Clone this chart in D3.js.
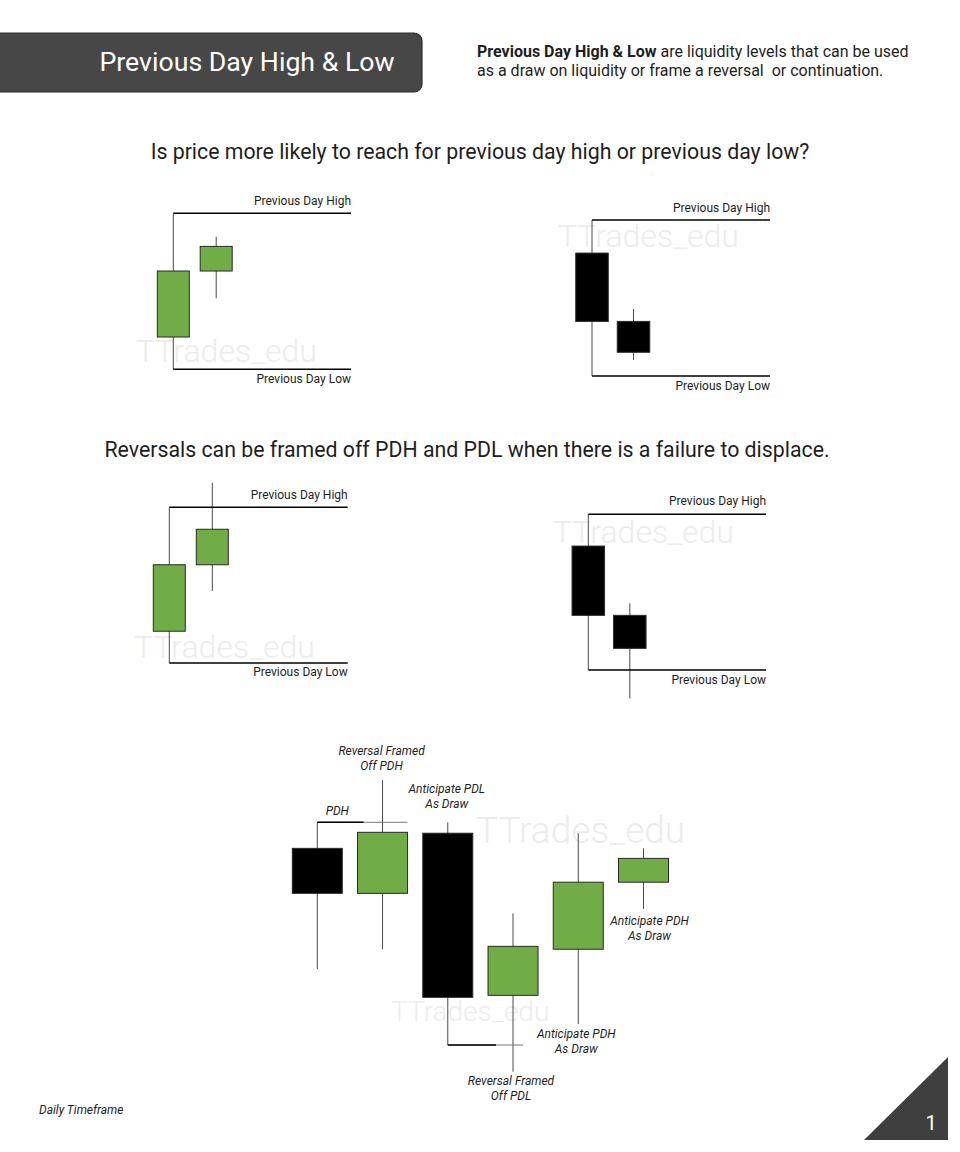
<!DOCTYPE html>
<html>
<head>
<meta charset="utf-8">
<script src="https://cdn.jsdelivr.net/npm/d3@7"></script>
<style>
  body { margin: 0; background: #fff; }
  svg { display: block; font-family: Roboto, "Noto Sans", sans-serif; }
</style>
</head>
<body>
<div id="page"></div>
<script>
// price values per diagram: previous day low = 0, previous day high = 100
const topLeftCandles = [
  {open: 20.7, high: 100, low: 0, close: 63},
  {open: 63, high: 85, low: 45.5, close: 78.8}
];
const topRightCandles = [
  {open: 78.8, high: 100, low: 0, close: 35},
  {open: 35, high: 43, low: 10.3, close: 15.2}
];
const midLeftCandles = [
  {open: 20.4, high: 100, low: 0, close: 63.1},
  {open: 63.1, high: 115.8, low: 46.2, close: 85.9}
];
const midRightCandles = [
  {open: 79.6, high: 100, low: 0, close: 35.1},
  {open: 35.1, high: 42.8, low: -18.2, close: 13.9}
];
const bottomCandles = [
  {open: 88.3, high: 100, low: 34.1, close: 68.1},
  {open: 68.1, high: 119, low: 43, close: 95.5},
  {open: 95.1, high: 100, low: 0, close: 21.4},
  {open: 22.3, high: 59.1, low: -12, close: 44.3},
  {open: 43, high: 95.1, low: 9.4, close: 73.1},
  {open: 73.1, high: 88.3, low: 61.1, close: 83.8}
];

const titleText = 'Previous Day High & Low';
const introBold = 'Previous Day High & Low';
const introLines = [' are liquidity levels that can be used', 'as a draw on liquidity or frame a reversal  or continuation.'];
const question1 = 'Is price more likely to reach for previous day high or previous day low?';
const question2 = 'Reversals can be framed off PDH and PDL when there is a failure to displace.';
const highLabel = 'Previous Day High';
const lowLabel = 'Previous Day Low';
const watermark = 'TTrades_edu';

// annotations on the bottom diagram: which candle, above/below its wick
const bottomNotes = [
  {candle: 1, side: 'above', lines: ['Reversal Framed', 'Off PDH'], dx: -1, gap: 25},
  {candle: 2, side: 'above', lines: ['Anticipate PDL', 'As Draw'], dx: -1, gap: 29},
  {candle: 5, side: 'below', lines: ['Anticipate PDH', 'As Draw'], dx: 6, gap: 16},
  {candle: 4, side: 'below', lines: ['Anticipate PDH', 'As Draw'], dx: -2, gap: 14},
  {candle: 3, side: 'below', lines: ['Reversal Framed', 'Off PDL'], dx: -2, gap: 13}
];

const green = '#70ad47';
const W = 960, H = 1152;

const svg = d3.select('#page').append('svg')
  .attr('width', W)
  .attr('height', H);

// header box
svg.append('rect')
  .attr('x', -12).attr('y', 33)
  .attr('width', 434).attr('height', 59)
  .attr('rx', 8)
  .attr('fill', '#474747')
  .attr('stroke', '#2e2e2e')
  .attr('stroke-width', 1.2);

svg.append('text')
  .attr('x', 247).attr('y', 71)
  .attr('text-anchor', 'middle')
  .attr('fill', '#fff')
  .attr('font-size', 26.7)
  .text(titleText);

const intro = svg.append('text')
  .attr('x', 477).attr('y', 57)
  .attr('font-size', 16)
  .attr('fill', '#1e1e1e')
  .style('white-space', 'pre');
intro.append('tspan').attr('font-weight', 700).text(introBold);
intro.append('tspan').text(introLines[0]);
intro.append('tspan').attr('x', 477).attr('y', 76).text(introLines[1]);

svg.append('text')
  .attr('x', 480).attr('y', 159)
  .attr('text-anchor', 'middle')
  .attr('font-size', 21.3)
  .attr('fill', '#1e1e1e')
  .text(question1);

svg.append('text')
  .attr('x', 467).attr('y', 457)
  .attr('text-anchor', 'middle')
  .attr('font-size', 21.3)
  .attr('fill', '#1e1e1e')
  .text(question2);

// watermarks sit behind the candles
function drawMark(x, y, size) {
  svg.append('text')
    .attr('x', x).attr('y', y)
    .attr('font-size', size)
    .attr('font-weight', 300)
    .attr('fill', '#ececec')
    .text(watermark);
}

// layout of the four small diagrams
const panels = [
  {candles: topLeftCandles, xs: [173.3, 216.2], top: 213.3, bottom: 369.3, right: 351, bodyW: 32,
   hiY: 204.5, loY: 382.5, mark: [136, 362]},
  {candles: topRightCandles, xs: [592, 633.5], top: 220, bottom: 376, right: 770, bodyW: 32.5,
   hiY: 211.5, loY: 389.5, mark: [558, 247]},
  {candles: midLeftCandles, xs: [169.3, 212.3], top: 507.3, bottom: 663, right: 347.7, bodyW: 32,
   hiY: 498.5, loY: 676, mark: [134, 658]},
  {candles: midRightCandles, xs: [588.3, 629.8], top: 514.3, bottom: 670, right: 766, bodyW: 32.5,
   hiY: 504.5, loY: 683.5, mark: [553, 543]}
];

function drawCandles(g, data, x, y, bw) {
  g.selectAll('line.wick')
    .data(data)
    .join('line')
      .attr('class', 'wick')
      .attr('x1', (d, i) => x(i)).attr('x2', (d, i) => x(i))
      .attr('y1', d => y(d.high)).attr('y2', d => y(d.low))
      .attr('stroke', '#4a4a4a')
      .attr('stroke-width', 1);

  g.selectAll('rect.body')
    .data(data)
    .join('rect')
      .attr('class', 'body')
      .attr('x', (d, i) => x(i) - bw / 2)
      .attr('y', d => y(Math.max(d.open, d.close)))
      .attr('width', bw)
      .attr('height', d => Math.abs(y(d.open) - y(d.close)))
      .attr('fill', d => d.close > d.open ? green : '#000')
      .attr('stroke', '#2a2a2a')
      .attr('stroke-width', 1);
}

panels.forEach(p => {
  drawMark(p.mark[0], p.mark[1], 32);
  const g = svg.append('g');
  const x = d3.scalePoint().domain(d3.range(p.candles.length)).range(p.xs);
  const y = d3.scaleLinear().domain([0, 100]).range([p.bottom, p.top]);
  const prev = p.candles[0];

  drawCandles(g, p.candles, x, y, p.bodyW);

  [prev.high, prev.low].forEach(v => {
    g.append('line')
      .attr('x1', x(0)).attr('x2', p.right)
      .attr('y1', y(v)).attr('y2', y(v))
      .attr('stroke', '#000')
      .attr('stroke-width', 1.4);
  });

  g.append('text')
    .attr('x', p.right).attr('y', p.hiY)
    .attr('text-anchor', 'end')
    .attr('font-size', 12)
    .attr('fill', '#1e1e1e')
    .text(highLabel);
  g.append('text')
    .attr('x', p.right).attr('y', p.loY)
    .attr('text-anchor', 'end')
    .attr('font-size', 12)
    .attr('fill', '#1e1e1e')
    .text(lowLabel);
});

// bottom diagram
drawMark(476, 843, 37);
drawMark(391, 1021, 28);

const bx = d3.scalePoint().domain(d3.range(bottomCandles.length)).range([317.3, 643.5]);
const by = d3.scaleLinear().domain([0, 100]).range([1045, 822.3]);
const bg = svg.append('g');

// PDH level from candle 0, PDL level from candle 2 (thin grey run-out past the next wick)
function levelLine(from, to, v, blackEnd) {
  bg.append('line')
    .attr('x1', bx(from)).attr('x2', bx(to) + (v > 50 ? 25 : 10))
    .attr('y1', by(v)).attr('y2', by(v))
    .attr('stroke', '#777').attr('stroke-width', 1);
  bg.append('line')
    .attr('x1', bx(from)).attr('x2', bx(to) - blackEnd)
    .attr('y1', by(v)).attr('y2', by(v))
    .attr('stroke', '#000').attr('stroke-width', 1.4);
}

drawCandles(bg, bottomCandles, bx, by, 50);
levelLine(0, 1, bottomCandles[0].high, 19);
levelLine(2, 3, bottomCandles[2].low, 17);

bg.append('text')
  .attr('x', bx(0) + 20).attr('y', by(bottomCandles[0].high) - 7)
  .attr('text-anchor', 'middle')
  .attr('font-size', 12)
  .attr('font-style', 'italic')
  .attr('fill', '#1e1e1e')
  .text('PDH');

bottomNotes.forEach(n => {
  const d = bottomCandles[n.candle];
  const cx = bx(n.candle) + n.dx;
  const t = bg.append('text')
    .attr('text-anchor', 'middle')
    .attr('font-size', 12)
    .attr('font-style', 'italic')
    .attr('fill', '#1e1e1e');
  const base = n.side === 'above' ? by(d.high) - n.gap : by(d.low) + n.gap;
  n.lines.forEach((line, i) => {
    t.append('tspan')
      .attr('x', cx)
      .attr('y', base + i * 15)
      .text(line);
  });
});

// footer
svg.append('text')
  .attr('x', 39).attr('y', 1114)
  .attr('font-size', 12)
  .attr('font-style', 'italic')
  .attr('fill', '#1e1e1e')
  .text('Daily Timeframe');

svg.append('path')
  .attr('d', 'M864,1140 L948,1057 L948,1140 Z')
  .attr('fill', '#3f3f3f');

svg.append('text')
  .attr('x', 931).attr('y', 1130)
  .attr('text-anchor', 'middle')
  .attr('font-size', 20)
  .attr('fill', '#fff')
  .text('1');
</script>
</body>
</html>
